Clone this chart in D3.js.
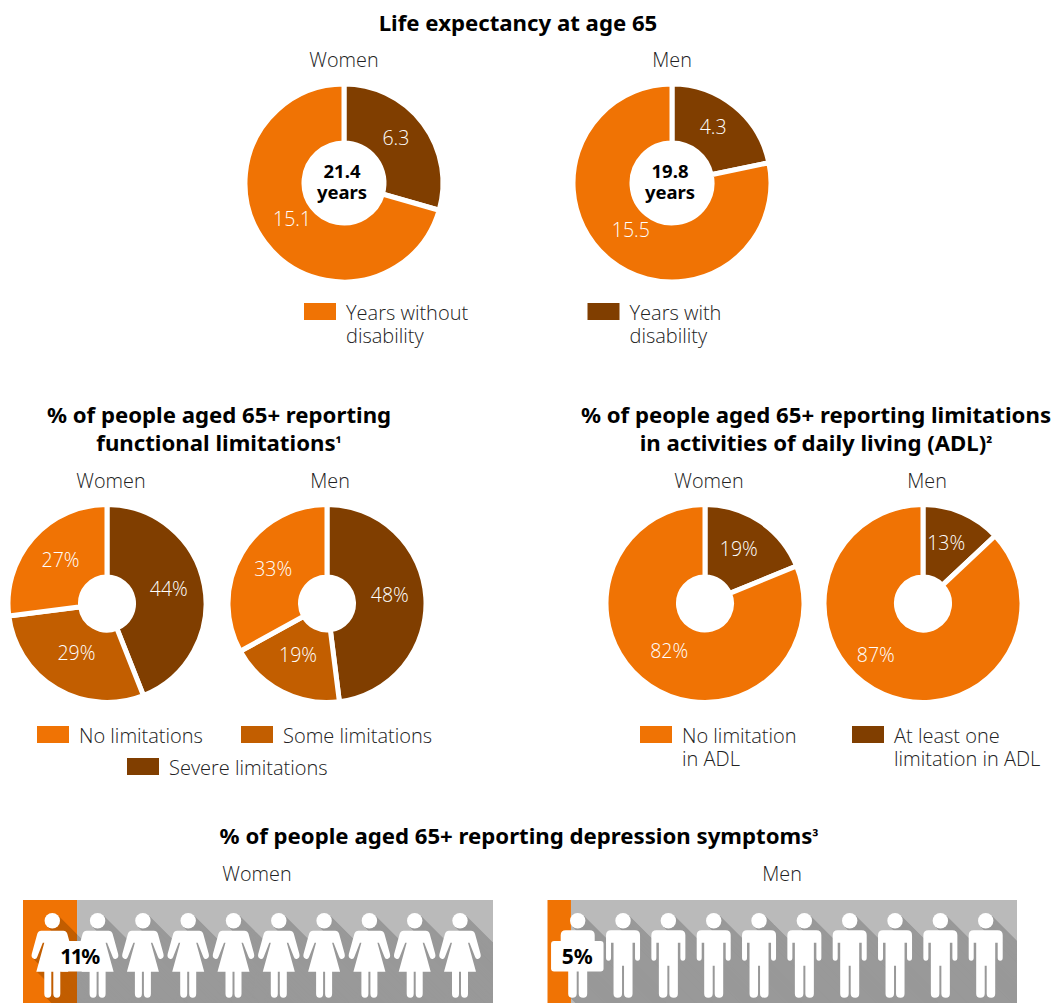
<!DOCTYPE html>
<html>
<head>
<meta charset="utf-8">
<script src="https://cdn.jsdelivr.net/npm/d3@7"></script>
<style>
  html, body { margin: 0; padding: 0; background: #fff; }
  svg { display: block; }
  text { font-family: "Open Sans", sans-serif; }
  .title { font-family: "Noto Sans", sans-serif; font-size: 22.2px; font-weight: 700; fill: #000; text-anchor: middle; }
  .sub { font-size: 19.8px; font-weight: 300; fill: #222; text-anchor: middle; }
  .legend { font-size: 20px; font-weight: 300; fill: #222; }
  .val { font-size: 19.5px; font-weight: 300; fill: #fff; text-anchor: middle; }
  .centre { font-family: "Noto Sans", sans-serif; font-size: 18.5px; font-weight: 700; fill: #000; text-anchor: middle; }
  .pct { font-family: "Noto Sans", sans-serif; font-size: 21px; font-weight: 700; fill: #000; text-anchor: middle; }
</style>
</head>
<body>
<div id="chart-area"></div>
<script>
const ORANGE = '#f07304';
const MID = '#c25e00';
const BROWN = '#803e00';
const PANEL = '#bababa';
const SHADOW = '#999999';

// life expectancy, years
const lifeWomen = [6.3, 15.1];
const lifeMen = [4.3, 15.5];
const lifeColours = [BROWN, ORANGE];
const lifeTotals = ['21.4', '19.8'];

// functional limitations, % (severe, some, none)
const funcWomen = [44, 29, 27];
const funcMen = [48, 19, 33];
const funcColours = [BROWN, MID, ORANGE];

// ADL, % (at least one, none)
const adlWomen = [19, 82];
const adlMen = [13, 87];
const adlColours = [BROWN, ORANGE];

// depression, filled share of the panel and the printed label
const depressionShare = [11.5, 5];
const depressionLabels = ['11%', '5%'];
const figureCount = d3.range(10);

const width = 1053;
const height = 1003;

// pictogram outlines, relative to the centre of the head
const WOMAN = 'M-11,10 L11,10 Q14,10 15,13 L20.5,33 Q21.5,37 18.5,38 Q16,39 15,36 L9.5,22 L8,22 L16,51 L8,51 L8,73 Q8,77 4.5,77 Q1,77 1,73 L1,51 L-1,51 L-1,73 Q-1,77 -4.5,77 Q-8,77 -8,73 L-8,51 L-16,51 L-8,22 L-9.5,22 L-15,36 Q-16,39 -18.5,38 Q-21.5,37 -20.5,33 L-15,13 Q-14,10 -11,10 Z';
const MAN = 'M-12,9.5 L12,9.5 Q17,9.5 17,14.5 L17,37 Q17,40 14.5,40 Q12,40 12,37 L12,22 L9.5,22 L9.5,73 Q9.5,77 5.5,77 Q1,77 1,73 L1,45 L-1,45 L-1,73 Q-1,77 -5.5,77 Q-9.5,77 -9.5,73 L-9.5,22 L-12,22 L-12,37 Q-12,40 -14.5,40 Q-17,40 -17,37 L-17,14.5 Q-17,9.5 -12,9.5 Z';

const svg = d3.select('#chart-area')
  .append('svg')
  .attr('width', width)
  .attr('height', height);

const defs = svg.append('defs');

const text = (cls, x, y, s) => svg.append('text')
  .attr('class', cls)
  .attr('x', x)
  .attr('y', y)
  .text(s);

// title ending in a small raised footnote mark
const noteTitle = (x, y, s, mark) => {
  text('title', x, y, s)
    .append('tspan')
    .attr('font-size', 16)
    .attr('dy', -1)
    .text(mark);
};

const pie = d3.pie().sort(null).value((d) => d);

const drawDonut = (cx, cy, inner, values, colours, fmt, labelR, nudges) => {
  const g = svg.append('g').attr('transform', `translate(${cx},${cy})`);
  const arc = d3.arc().innerRadius(inner).outerRadius(99);
  const labelArc = d3.arc().innerRadius(labelR).outerRadius(labelR);
  const slices = pie(values);
  g.selectAll('path')
    .data(slices)
    .enter()
    .append('path')
    .attr('d', arc)
    .attr('fill', (d, i) => colours[i])
    .attr('stroke', '#fff')
    .attr('stroke-width', 5);
  g.selectAll('text')
    .data(slices)
    .enter()
    .append('text')
    .attr('class', 'val')
    .attr('x', (d, i) => labelArc.centroid(d)[0] + nudges[i][0])
    .attr('y', (d, i) => labelArc.centroid(d)[1] + 7 + nudges[i][1])
    .text((d) => fmt(d.value));
};

const legendItem = (x, y, colour, lines) => {
  svg.append('rect')
    .attr('x', x)
    .attr('y', y)
    .attr('width', 32)
    .attr('height', 17)
    .attr('fill', colour);
  const t = text('legend', x + 42, y + 17, lines[0]);
  lines.slice(1).forEach((l) => {
    t.append('tspan').attr('x', x + 42).attr('dy', 23).text(l);
  });
};

const drawPanel = (id, x0, x1, firstHead, lastHead, outline, share, label, labelX, boxW, tight) => {
  const top = 900;
  const bottom = 1003;
  const panelX = d3.scaleLinear().domain([0, 100]).range([x0, x1]);
  const figX = d3.scaleLinear().domain([0, 9]).range([firstHead, lastHead]);
  const headY = 920.7;
  const split = panelX(share);

  svg.append('rect').attr('x', x0).attr('y', top).attr('width', split - x0).attr('height', bottom - top).attr('fill', ORANGE);
  svg.append('rect').attr('x', split).attr('y', top).attr('width', x1 - split).attr('height', bottom - top).attr('fill', PANEL);

  // long shadows, clipped to each part of the panel
  [[x0, split, MID, 'a'], [split, x1, SHADOW, 'b']].forEach(([a, b, colour, key]) => {
    defs.append('clipPath').attr('id', id + key)
      .append('rect').attr('x', a).attr('y', top).attr('width', b - a).attr('height', bottom - top);
    const g = svg.append('g').attr('clip-path', `url(#${id + key})`).attr('fill', colour);
    figureCount.forEach((n) => {
      g.selectAll(null)
        .data(d3.range(1, 90))
        .enter()
        .append('path')
        .attr('d', outline)
        .attr('transform', (d) => `translate(${figX(n) + d},${headY + d})`);
      g.selectAll(null)
        .data(d3.range(1, 90))
        .enter()
        .append('circle')
        .attr('r', 7.7)
        .attr('cx', (d) => figX(n) + d)
        .attr('cy', (d) => headY + d);
    });
  });

  const figs = svg.append('g').attr('fill', '#fff');
  figureCount.forEach((n) => {
    const f = figs.append('g').attr('transform', `translate(${figX(n)},${headY})`);
    f.append('circle').attr('r', 7.7);
    f.append('path').attr('d', outline);
  });

  svg.append('rect')
    .attr('x', labelX - boxW / 2)
    .attr('y', 941)
    .attr('width', boxW)
    .attr('height', 30.5)
    .attr('rx', 3)
    .attr('fill', '#fff');
  text('pct', labelX, 963.5, label).attr('letter-spacing', tight);
};

// top block
text('title', 518, 31, 'Life expectancy at age 65');
text('sub', 344, 67, 'Women');
text('sub', 672, 67, 'Men');
drawDonut(344, 183, 40, lifeWomen, lifeColours, (v) => v, 70, [[-4, -3], [4, -6]]);
drawDonut(672, 183, 40, lifeMen, lifeColours, (v) => v, 70, [[-3, -2], [3, -7]]);
[342, 670].forEach((cx, i) => {
  const t = text('centre', cx, 178, lifeTotals[i]);
  t.append('tspan').attr('x', cx).attr('dy', 21).text('years');
});
legendItem(304, 303, ORANGE, ['Years without', 'disability']);
legendItem(587.5, 303, BROWN, ['Years with', 'disability']);

// functional limitations
text('title', 219, 423, '% of people aged 65+ reporting');
noteTitle(219, 451, 'functional limitations', '¹');
text('sub', 111, 488, 'Women');
text('sub', 330, 488, 'Men');
const pctFmt = (v) => v + '%';
drawDonut(107, 603.5, 26.5, funcWomen, funcColours, pctFmt, 66, [[-3, -2], [3, -7], [3, 0]]);
drawDonut(327, 603.5, 26.5, funcMen, funcColours, pctFmt, 66, [[-3, -4], [1, -7], [3, -1]]);
legendItem(37, 726, ORANGE, ['No limitations']);
legendItem(241, 726, MID, ['Some limitations']);
legendItem(127, 758, BROWN, ['Severe limitations']);

// ADL
text('title', 816, 423, '% of people aged 65+ reporting limitations');
noteTitle(816, 451, 'in activities of daily living (ADL)', '²');
text('sub', 709, 488, 'Women');
text('sub', 927, 488, 'Men');
drawDonut(705, 603.5, 26.5, adlWomen, adlColours, pctFmt, 66, [[-3, 0], [1, -7]]);
drawDonut(923, 603.5, 26.5, adlMen, adlColours, pctFmt, 66, [[-3, 0], [-21, -9]]);
legendItem(640, 726, ORANGE, ['No limitation', 'in ADL']);
legendItem(852, 726, BROWN, ['At least one', 'limitation in ADL']);

// depression pictograms
noteTitle(519, 844, '% of people aged 65+ reporting depression symptoms', '³');
text('sub', 257, 881, 'Women');
text('sub', 782, 881, 'Men');
drawPanel('w', 23, 493, 52.3, 460, WOMAN, depressionShare[0], depressionLabels[0], 79.5, 40, -1.5);
drawPanel('m', 547.5, 1017, 577.7, 985.7, MAN, depressionShare[1], depressionLabels[1], 577.3, 52.5, 0);
</script>
</body>
</html>
